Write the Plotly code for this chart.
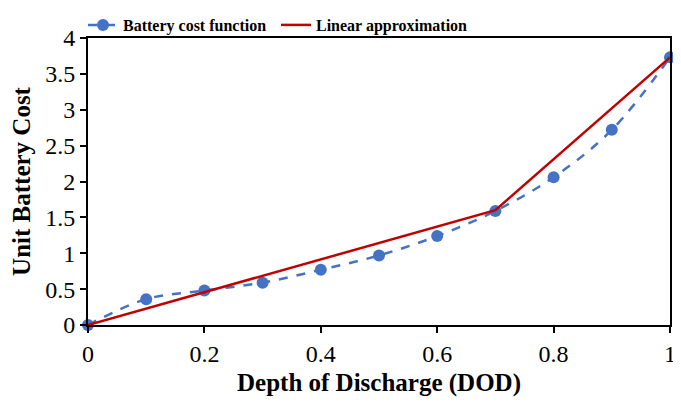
import plotly.graph_objects as go

dod = [0, 0.1, 0.2, 0.3, 0.4, 0.5, 0.6, 0.7, 0.8, 0.9, 1.0]
cost = [0, 0.36, 0.48, 0.59, 0.77, 0.97, 1.24, 1.59, 2.06, 2.72, 3.73]
lin_x = [0, 0.7, 1.0]
lin_y = [0, 1.6, 3.73]

fig = go.Figure()
fig.add_trace(go.Scatter(x=dod, y=cost, mode="lines+markers", name="Battery cost function",
                         line=dict(color="#4472C4", width=2.5, dash="dash", shape="spline"),
                         marker=dict(size=12, color="#4472C4"), cliponaxis=False))
fig.add_trace(go.Scatter(x=lin_x, y=lin_y, mode="lines", name="Linear approximation",
                         line=dict(color="#C00000", width=2.5), cliponaxis=False))

font = "Liberation Serif"
fig.update_layout(
    width=673, height=392,
    margin=dict(l=80, r=11, t=30, b=75, autoexpand=False),
    paper_bgcolor="white", plot_bgcolor="white",
    font=dict(family=font, color="black", size=19),
    showlegend=True,
    legend=dict(orientation="h", x=75 / 673, xanchor="left", xref="container",
                y=1.0, yanchor="top", yref="container", entrywidth=148,
                font=dict(size=16, family=font, color="black", weight="bold"),
                bgcolor="rgba(0,0,0,0)"),
    xaxis=dict(range=[0, 1], tickvals=[0, 0.2, 0.4, 0.6, 0.8, 1], ticktext=["0", "0.2", "0.4", "0.6", "0.8", "1"],
               showline=True, linecolor="black", linewidth=2, mirror=True,
               ticks="outside", ticklen=6, tickwidth=2, tickcolor="black",
               showgrid=False, zeroline=False,
               tickfont=dict(size=24, family=font, color="black"),
               title=dict(text="<b>Depth of Discharge (DOD)</b>", font=dict(size=25, family=font, color="black"), standoff=8)),
    yaxis=dict(range=[0, 4], tickvals=[0, 0.5, 1, 1.5, 2, 2.5, 3, 3.5, 4],
               ticktext=["0", "0.5", "1", "1.5", "2", "2.5", "3", "3.5", "4"],
               showline=True, linecolor="black", linewidth=2, mirror=True,
               ticks="outside", ticklen=6, tickwidth=2, tickcolor="black",
               showgrid=False, zeroline=False,
               tickfont=dict(size=24, family=font, color="black"),
               title=dict(text="<b>Unit Battery Cost</b>", font=dict(size=25, family=font, color="black"), standoff=16)),
)
fig.write_html("out.html")
